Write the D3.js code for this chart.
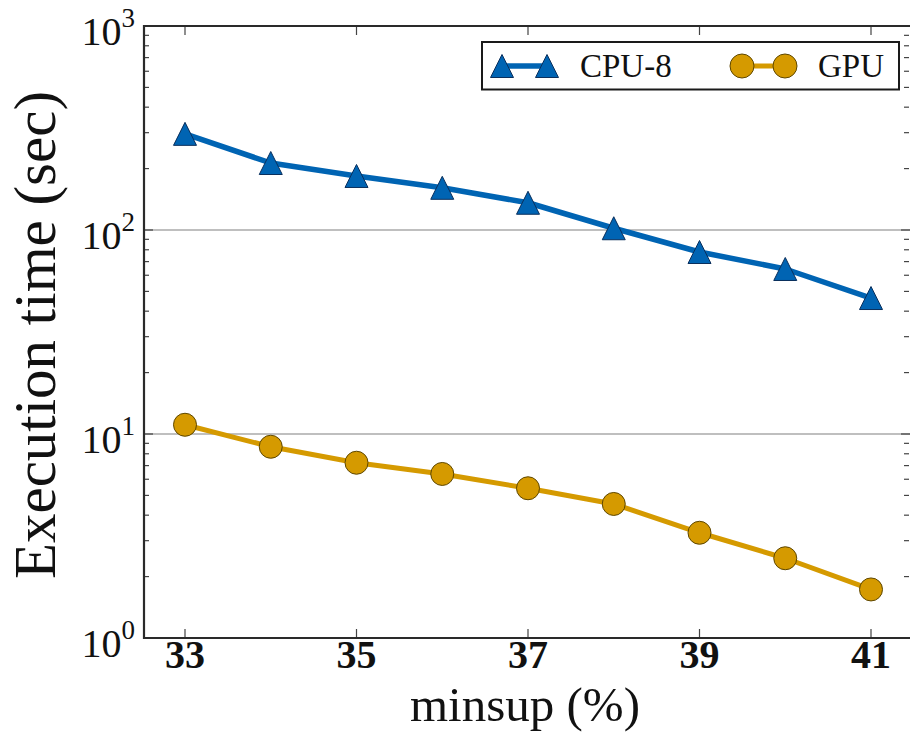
<!DOCTYPE html>
<html>
<head>
<meta charset="utf-8">
<script src="https://cdn.jsdelivr.net/npm/d3@7"></script>
<style>
  html, body { margin: 0; padding: 0; background: #fff; }
  svg { display: block; }
  text { font-family: "Liberation Serif", "Times New Roman", serif; fill: #111; }
</style>
</head>
<body>
<svg id="chart" width="910" height="732"></svg>
<script>
// ---- data ----
const minsup = [33, 34, 35, 36, 37, 38, 39, 40, 41];
const cpu8 = [296, 213, 184, 161, 136, 102, 78, 64.4, 46.4];
const gpu = [11.1, 8.66, 7.23, 6.37, 5.42, 4.54, 3.28, 2.46, 1.73];
const xTickValues = [33, 35, 37, 39, 41];
const yTickExponents = [0, 1, 2, 3];
const seriesNames = ["CPU-8", "GPU"];

// ---- layout ----
const svg = d3.select("#chart");
const plot = { left: 144, right: 912, top: 26, bottom: 638 };
const x = d3.scaleLinear().domain([33, 41]).range([185, 871]);
const y = d3.scaleLog().domain([1, 1000]).range([plot.bottom, plot.top]);

const blue = "#0064b3", blueEdge = "#0a2f5c";
const gold = "#d59a00", goldEdge = "#5e4700";

// gridlines at major decades (inside)
svg.append("g").selectAll("line")
  .data([10, 100]).join("line")
  .attr("x1", plot.left).attr("x2", plot.right)
  .attr("y1", d => y(d)).attr("y2", d => y(d))
  .attr("stroke", "#aaaaaa").attr("stroke-width", 1.6);

// minor ticks on y (left & right)
const minor = [];
for (let e = 0; e < 3; e++) for (let m = 2; m <= 9; m++) minor.push(m * Math.pow(10, e));
const tg = svg.append("g").attr("stroke", "#444").attr("stroke-width", 1.2);
tg.selectAll("line.ml").data(minor).join("line").attr("class", "ml")
  .attr("x1", plot.left).attr("x2", plot.left + 5)
  .attr("y1", d => y(d)).attr("y2", d => y(d));
tg.selectAll("line.mr").data(minor).join("line").attr("class", "mr")
  .attr("x1", 909).attr("x2", 904)
  .attr("y1", d => y(d)).attr("y2", d => y(d));
// major ticks on y
const majors = yTickExponents.map(e => Math.pow(10, e));
tg.selectAll("line.Ml").data(majors).join("line").attr("class", "Ml")
  .attr("x1", plot.left).attr("x2", plot.left + 9)
  .attr("y1", d => y(d)).attr("y2", d => y(d));
tg.selectAll("line.Mr").data(majors).join("line").attr("class", "Mr")
  .attr("x1", 910).attr("x2", 901)
  .attr("y1", d => y(d)).attr("y2", d => y(d));
// x ticks top & bottom
tg.selectAll("line.xb").data(xTickValues).join("line").attr("class", "xb")
  .attr("x1", d => x(d)).attr("x2", d => x(d))
  .attr("y1", plot.bottom).attr("y2", plot.bottom - 9);
tg.selectAll("line.xt").data(xTickValues).join("line").attr("class", "xt")
  .attr("x1", d => x(d)).attr("x2", d => x(d))
  .attr("y1", plot.top).attr("y2", plot.top + 9);

// spines
svg.append("path")
  .attr("d", `M${plot.right},${plot.top}H${plot.left}V${plot.bottom}H${plot.right}`)
  .attr("fill", "none").attr("stroke", "#2a2a2a").attr("stroke-width", 2.2);

// y tick labels
const yl = svg.append("g").selectAll("text").data(yTickExponents).join("text")
  .attr("x", 135).attr("y", d => y(Math.pow(10, d)) + 19)
  .attr("text-anchor", "end").style("font-size", "40px");
yl.append("tspan").text("10");
yl.append("tspan").attr("dy", -18).style("font-size", "27px").text(d => String(d));

// x tick labels
svg.append("g").selectAll("text").data(xTickValues).join("text")
  .attr("x", d => x(d)).attr("y", 668)
  .attr("text-anchor", "middle").style("font-size", "40px").style("font-weight", "bold")
  .text(d => d);

// axis titles
svg.append("text").attr("x", 525).attr("y", 721).attr("text-anchor", "middle")
  .style("font-size", "49px").text("minsup (%)");
svg.append("text").attr("transform", "translate(55,335) rotate(-90)")
  .attr("text-anchor", "middle").style("font-size", "59px").text("Execution time (sec)");

// lines
const line = d3.line().x((d, i) => x(minsup[i])).y(d => y(d));
svg.append("path").datum(cpu8).attr("d", line)
  .attr("fill", "none").attr("stroke", blue).attr("stroke-width", 5.5).attr("stroke-linejoin", "round");
svg.append("path").datum(gpu).attr("d", line)
  .attr("fill", "none").attr("stroke", gold).attr("stroke-width", 5).attr("stroke-linejoin", "round");

// markers
function triPath(cx, cy, s) {
  return `M${cx},${cy - s}L${cx + s},${cy + s}L${cx - s},${cy + s}Z`;
}
svg.append("g").selectAll("path").data(cpu8).join("path")
  .attr("d", (d, i) => triPath(x(minsup[i]), y(d), 11.5))
  .attr("fill", blue).attr("stroke", blueEdge).attr("stroke-width", 1);
svg.append("g").selectAll("circle").data(gpu).join("circle")
  .attr("cx", (d, i) => x(minsup[i])).attr("cy", d => y(d)).attr("r", 11.5)
  .attr("fill", gold).attr("stroke", goldEdge).attr("stroke-width", 1);

// legend
const lg = svg.append("g");
lg.append("rect").attr("x", 482).attr("y", 42).attr("width", 417).attr("height", 47.5)
  .attr("fill", "#fff").attr("stroke", "#1a1a1a").attr("stroke-width", 2);
lg.append("line").attr("x1", 502).attr("x2", 547).attr("y1", 66).attr("y2", 66)
  .attr("stroke", blue).attr("stroke-width", 5.5);
[502, 547].forEach(cx => lg.append("path").attr("d", triPath(cx, 66, 11.5))
  .attr("fill", blue).attr("stroke", blueEdge).attr("stroke-width", 1));
lg.append("text").attr("x", 580).attr("y", 76.5).style("font-size", "33px").text(seriesNames[0]);
lg.append("line").attr("x1", 742).attr("x2", 785).attr("y1", 66).attr("y2", 66)
  .attr("stroke", gold).attr("stroke-width", 5);
[742, 785].forEach(cx => lg.append("circle").attr("cx", cx).attr("cy", 66).attr("r", 12)
  .attr("fill", gold).attr("stroke", goldEdge).attr("stroke-width", 1));
lg.append("text").attr("x", 818).attr("y", 76.5).style("font-size", "33px").text(seriesNames[1]);
</script>
</body>
</html>
